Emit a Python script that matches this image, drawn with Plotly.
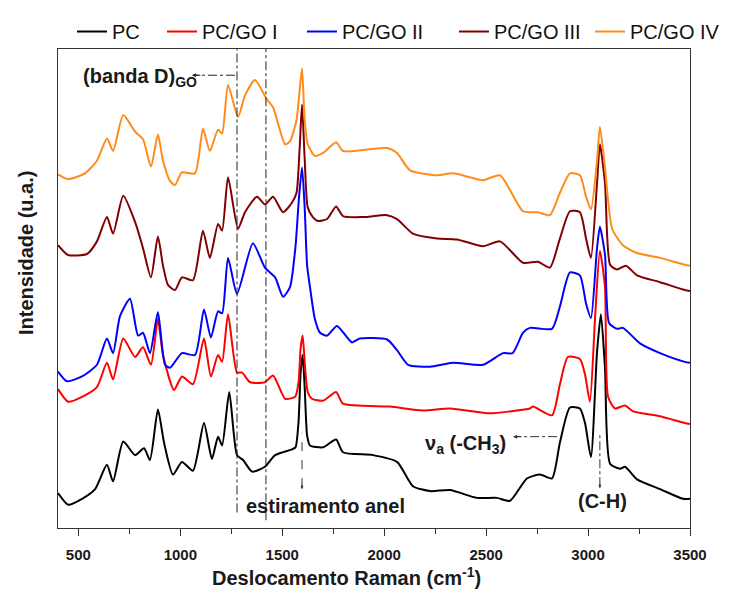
import plotly.graph_objects as go

# ---- data (intensity in arbitrary units, offset as in the figure) ----
pc_x = [400, 450, 518, 582, 640, 670, 720, 778, 822, 851, 890, 920, 964, 1008, 1062, 1116, 1155, 1185, 1205, 1240,
        1278, 1308, 1352, 1415, 1465, 1548, 1565, 1580, 1590, 1600, 1610, 1622, 1636, 1700, 1764, 1798, 1945, 2063,
        2141, 2225, 2323, 2455, 2553, 2617, 2700, 2764, 2823, 2862, 2911, 2960, 2985, 3014, 3044, 3063, 3083, 3108,
        3157, 3181, 3240, 3353, 3466, 3500]
pc_y = [36, 24, 30, 40, 65, 48, 89, 75, 82, 70, 122, 88, 55, 68, 59, 108, 71, 94, 85, 140,
        75, 70, 58, 63, 75, 81, 83, 110, 160, 178, 145, 95, 85, 83, 91, 78, 75, 68,
        43, 38, 39, 31, 31, 28, 51, 55, 51, 88, 124, 123, 108, 73, 181, 220, 165, 66,
        61, 63, 50, 40, 30, 30]

go1_x = [400, 450, 518, 591, 640, 670, 720, 778, 817, 856, 890, 915, 969, 1008, 1062, 1116, 1150, 1185, 1205, 1234,
         1278, 1303, 1342, 1415, 1455, 1514, 1563, 1580, 1590, 1600, 1612, 1625, 1646, 1700, 1764, 1798, 2028, 2190,
         2323, 2519, 2617, 2715, 2730, 2823, 2862, 2901, 2960, 2985, 3009, 3034, 3058, 3083, 3098, 3132, 3181, 3221,
         3353, 3475, 3500]
go1_y = [143, 130, 135, 145, 170, 153, 195, 176, 186, 168, 215, 178, 142, 156, 148, 195, 156, 178, 171, 220,
         160, 160, 150, 150, 157, 133, 135, 150, 185, 198, 165, 140, 133, 131, 140, 128, 125, 121,
         123, 118, 120, 123, 125, 116, 148, 176, 174, 158, 130, 215, 285, 248, 135, 123, 126, 120,
         115, 108, 107]

go2_x = [400, 444, 518, 591, 640, 670, 704, 753, 793, 817, 851, 890, 925, 950, 1008, 1072, 1116, 1150, 1185, 1205,
         1234, 1278, 1356, 1415, 1465, 1504, 1538, 1565, 1582, 1597, 1610, 1622, 1636, 1660, 1685, 1720, 1768, 1842,
         1880, 2014, 2063, 2117, 2225, 2338, 2485, 2583, 2630, 2681, 2715, 2823, 2862, 2911, 2960, 2990, 3014, 3044,
         3058, 3083, 3103, 3142, 3171, 3255, 3353, 3475, 3500]
go2_y = [161, 151, 156, 168, 195, 180, 218, 236, 198, 201, 180, 222, 168, 165, 180, 178, 225, 196, 223, 221,
         278, 241, 293, 268, 258, 238, 248, 290, 340, 371, 330, 270, 248, 215, 201, 198, 208, 191,
         195, 194, 183, 168, 166, 170, 168, 180, 180, 201, 206, 205, 228, 263, 260, 231, 216, 288,
         310, 281, 211, 205, 206, 190, 180, 171, 170]

go3_x = [400, 449, 542, 591, 640, 670, 720, 778, 817, 856, 890, 915, 940, 974, 1008, 1062, 1111, 1145, 1185, 1205,
         1234, 1283, 1317, 1376, 1415, 1455, 1504, 1548, 1570, 1585, 1597, 1610, 1625, 1650, 1675, 1720, 1764, 1798,
         1896, 2014, 2063, 2141, 2259, 2357, 2485, 2568, 2681, 2754, 2813, 2862, 2911, 2960, 2990, 3014, 3044, 3058,
         3083, 3108, 3142, 3186, 3240, 3353, 3475, 3500]
go3_y = [291, 281, 282, 295, 320, 303, 342, 315, 288, 258, 300, 270, 250, 245, 258, 255, 306, 278, 313, 306,
         361, 308, 325, 341, 333, 341, 325, 335, 345, 390, 436, 380, 330, 320, 316, 318, 331, 321,
         320, 322, 318, 303, 298, 297, 290, 295, 273, 274, 268, 298, 326, 325, 298, 278, 355, 395,
         355, 271, 266, 270, 260, 253, 245, 244]

go4_x = [400, 449, 532, 591, 640, 670, 720, 778, 817, 856, 890, 915, 950, 974, 1008, 1072, 1111, 1145, 1185, 1205,
         1234, 1283, 1317, 1366, 1425, 1455, 1514, 1538, 1570, 1585, 1597, 1610, 1625, 1660, 1700, 1764, 1798, 1896,
         2014, 2063, 2127, 2259, 2338, 2485, 2568, 2681, 2754, 2813, 2862, 2911, 2960, 2990, 3014, 3044, 3058, 3083,
         3118, 3171, 3240, 3353, 3475, 3500]
go4_y = [364, 359, 365, 378, 401, 388, 425, 408, 400, 372, 405, 378, 357, 353, 366, 365, 411, 388, 410, 406,
         456, 423, 445, 461, 441, 433, 395, 398, 420, 450, 473, 420, 395, 383, 386, 397, 388, 389,
         391, 386, 368, 363, 365, 358, 363, 326, 325, 322, 345, 365, 363, 341, 328, 378, 413, 371,
         308, 291, 283, 278, 271, 270]

series_names = ["PC", "PC/GO I", "PC/GO II", "PC/GO III", "PC/GO IV"]
series_colors = ["#000000", "#FF0000", "#0000FF", "#800000", "#FF8C1A"]
series_x = [pc_x, go1_x, go2_x, go3_x, go4_x]
series_y = [pc_y, go1_y, go2_y, go3_y, go4_y]

x_ticks = [500, 1000, 1500, 2000, 2500, 3000, 3500]

SANS = "Liberation Sans, Arial"
TXT = "#1a1a1a"

# plot-area geometry in pixels (used only for placing texts/legends)
L, R, T, B = 58, 690, 35, 528
PW, PH = R - L, B - T


def px_to_paper_x(px):
    return (px - L) / PW


def py_to_paper_y(py):
    return (B - py) / PH


fig = go.Figure()
legend_ids = ["legend", "legend2", "legend3", "legend4", "legend5"]
for name, col, xs, ys, lid in zip(series_names, series_colors, series_x, series_y, legend_ids):
    fig.add_trace(go.Scatter(x=xs, y=ys, mode="lines", name=name, legend=lid,
                             line=dict(color=col, width=2, shape="spline", smoothing=0.6)))

shapes = []
for xv, yb in [(1278, 16), (1420, 8)]:
    shapes.append(dict(type="line", xref="x", yref="y", x0=xv, x1=xv, y0=yb, y1=493,
                       line=dict(color="#222222", width=1, dash="dashdot")))
shapes.append(dict(type="line", xref="x", yref="y", x0=1268, x1=1065, y0=466, y1=466,
                   line=dict(color="#222222", width=1, dash="dashdot")))
shapes.append(dict(type="line", xref="x", yref="y", x0=2848, x1=2645, y0=94, y1=94,
                   line=dict(color="#333333", width=1, dash="dashdot")))
shapes.append(dict(type="line", xref="x", yref="y", x0=1597, x1=1597, y0=42, y1=98,
                   line=dict(color="#333333", width=1, dash="dash")))
shapes.append(dict(type="line", xref="x", yref="y", x0=3058, x1=3058, y0=43, y1=96,
                   line=dict(color="#333333", width=1, dash="dashdot")))

annotations = [
    dict(x=1057, y=466, xref="x", yref="y", ax=10, ay=0, showarrow=True, arrowhead=2,
         arrowsize=0.8, arrowwidth=1, arrowcolor="#222222", text=""),
    dict(x=2632, y=94, xref="x", yref="y", ax=10, ay=0, showarrow=True, arrowhead=2,
         arrowsize=0.8, arrowwidth=1, arrowcolor="#333333", text=""),
    dict(x=1597, y=40, xref="x", yref="y", ax=0, ay=-6, showarrow=True, arrowhead=2,
         arrowsize=0.6, arrowwidth=1, arrowcolor="#333333", text=""),
    dict(x=3058, y=41, xref="x", yref="y", ax=0, ay=-6, showarrow=True, arrowhead=2,
         arrowsize=0.6, arrowwidth=1, arrowcolor="#333333", text=""),
    dict(x=515, y=464, xref="x", yref="y", xanchor="left", yanchor="middle", showarrow=False,
         text="<b>(banda D)<sub>GO</sub></b>", font=dict(family=SANS, size=20, color=TXT)),
    dict(x=1312, y=23, xref="x", yref="y", xanchor="left", yanchor="middle", showarrow=False,
         text="<b>estiramento anel</b>", font=dict(family=SANS, size=20, color=TXT)),
    dict(x=2190, y=86, xref="x", yref="y", xanchor="left", yanchor="middle", showarrow=False,
         text="<b>ν<sub>a</sub> (-CH<sub>3</sub>)</b>", font=dict(family=SANS, size=20, color=TXT)),
    dict(x=3073, y=28, xref="x", yref="y", xanchor="center", yanchor="middle", showarrow=False,
         text="<b>(C-H)</b>", font=dict(family=SANS, size=20, color=TXT)),
    dict(x=px_to_paper_x(346), y=py_to_paper_y(578), xref="paper", yref="paper",
         xanchor="center", yanchor="middle", showarrow=False,
         text="<b>Deslocamento Raman (cm<sup>-1</sup>)</b>",
         font=dict(family=SANS, size=20, color=TXT)),
    dict(x=px_to_paper_x(26), y=py_to_paper_y(245), xref="paper", yref="paper",
         xanchor="center", yanchor="middle", showarrow=False, textangle=-90,
         text="<b>Intensidade (u.a.)</b>",
         font=dict(family=SANS, size=20, color=TXT)),
]

# legends: one per series, placed at the text positions of the reference
legend_text_px = [112, 202, 342, 494, 630]
legend_layout = {}
for lid, tx in zip(legend_ids, legend_text_px):
    legend_layout[lid] = dict(orientation="h", x=px_to_paper_x(tx - 40), xanchor="left",
                              y=py_to_paper_y(17), yanchor="middle",
                              font=dict(family=SANS, size=20, color="#111111"),
                              bgcolor="rgba(0,0,0,0)", borderwidth=0)

fig.update_layout(
    width=745, height=590,
    margin=dict(l=L, r=745 - R, t=T, b=590 - B),
    paper_bgcolor="white", plot_bgcolor="white",
    showlegend=True,
    shapes=shapes,
    annotations=annotations,
    xaxis=dict(range=[400, 3500], tickmode="array", tickvals=x_ticks,
               ticktext=[f"<b>{t}</b>" for t in x_ticks],
               ticks="outside", ticklen=7, tickwidth=1, tickcolor="#333333",
               ticklabelstandoff=6,
               minor=dict(dtick=250, tick0=250, ticks="outside", ticklen=5, tickcolor="#333333"),
               showline=True, linecolor="#333333", linewidth=1, mirror=True,
               showgrid=False, zeroline=False,
               tickfont=dict(family=SANS, size=15, color=TXT)),
    yaxis=dict(range=[0, 493], showticklabels=False, ticks="",
               showline=True, linecolor="#333333", linewidth=1, mirror=True,
               showgrid=False, zeroline=False),
    **legend_layout,
)

fig.write_html("out.html")
